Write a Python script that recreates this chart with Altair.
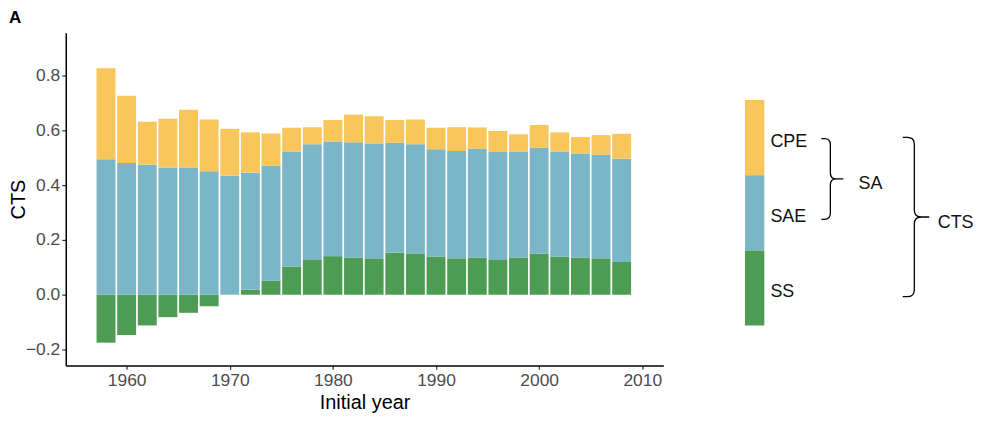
import altair as alt
import pandas as pd

# ---- data ----
years = [1958, 1960, 1962, 1964, 1966, 1968, 1970, 1972, 1974, 1976, 1978, 1980, 1982,
         1984, 1986, 1988, 1990, 1992, 1994, 1996, 1998, 2000, 2002, 2004, 2006, 2008]
ss = [-0.175, -0.147, -0.112, -0.082, -0.066, -0.042, 0.000, 0.018, 0.052, 0.103, 0.127, 0.141, 0.136,
      0.133, 0.153, 0.151, 0.139, 0.133, 0.136, 0.127, 0.136, 0.150, 0.139, 0.136, 0.133, 0.120]
sae = [0.495, 0.481, 0.475, 0.465, 0.465, 0.451, 0.435, 0.428, 0.418, 0.420, 0.423, 0.419, 0.421,
       0.419, 0.402, 0.399, 0.392, 0.392, 0.397, 0.394, 0.387, 0.387, 0.384, 0.380, 0.378, 0.377]
cpe = [0.332, 0.246, 0.157, 0.178, 0.211, 0.189, 0.171, 0.147, 0.119, 0.087, 0.062, 0.078, 0.101,
       0.100, 0.083, 0.090, 0.079, 0.087, 0.078, 0.077, 0.063, 0.083, 0.070, 0.060, 0.072, 0.091]

components = ["CPE", "SAE", "SS"]
colors = ["#F8C65B", "#7AB6C7", "#4E9B54"]
x_ticks = [1960, 1970, 1980, 1990, 2000, 2010]
y_ticks = [-0.2, 0.0, 0.2, 0.4, 0.6, 0.8]

FONT = "Liberation Sans"

rows = []
for i, yr in enumerate(years):
    rows.append({"year": yr, "component": "SS", "value": ss[i]})
    rows.append({"year": yr, "component": "SAE", "value": sae[i]})
    rows.append({"year": yr, "component": "CPE", "value": cpe[i]})
df = pd.DataFrame(rows)

color_scale = alt.Scale(domain=components, range=colors)

bars = (
    alt.Chart(df)
    .transform_calculate(rank="indexof(['SS','SAE','CPE'], datum.component)")
    .mark_bar(size=19)
    .encode(
        x=alt.X("year:Q",
                scale=alt.Scale(domain=[1954.58, 2011.56], nice=False, zero=False),
                axis=alt.Axis(values=x_ticks, format="d", title="Initial year",
                              titlePadding=4)),
        y=alt.Y("value:Q", stack="zero",
                scale=alt.Scale(domain=[-0.258, 0.957], nice=False, zero=False),
                axis=alt.Axis(values=y_ticks, format=".1f", title="CTS",
                              titlePadding=-3)),
        color=alt.Color("component:N", scale=color_scale, legend=None),
        order=alt.Order("rank:Q", sort="ascending"),
    )
)

leg_df = pd.DataFrame({"component": components})
leg_y = alt.Scale(domain=components, range=[67.6, 294], paddingInner=0, paddingOuter=0)

# legend panel positions are relative to the plot origin (now 3px further right)
OX = -3

leg_rect = (
    alt.Chart(leg_df)
    .mark_rect()
    .encode(
        x=alt.value(685 + OX), x2=alt.value(704.4 + OX),
        y=alt.Y("component:N", scale=leg_y, axis=None),
        color=alt.Color("component:N", scale=color_scale, legend=None),
    )
)

leg_text = (
    alt.Chart(leg_df)
    .mark_text(align="left", baseline="middle", dy=4, fontSize=18, font=FONT, color="#111111")
    .encode(
        x=alt.value(710.5 + OX),
        y=alt.Y("component:N", scale=leg_y, axis=None),
        text="component:N",
    )
)

SA_PATH = ("M -0.222 -1 L -0.148 -1 Q 0 -1 0 -0.852 L 0 -0.148 Q 0 0 0.148 0 L 0.321 0 "
           "M 0.148 0 Q 0 0 0 0.148 L 0 0.852 Q 0 1 -0.148 1 L -0.222 1")
CTS_PATH = ("M -0.145 -1 L -0.0875 -1 Q 0 -1 0 -0.9125 L 0 -0.0875 Q 0 0 0.0875 0 L 0.1875 0 "
            "M 0.0875 0 Q 0 0 0 0.0875 L 0 0.9125 Q 0 1 -0.0875 1 L -0.145 1")

one = alt.Data(values=[{"k": 1}])

brace_sa = alt.Chart(one).mark_point(
    shape=SA_PATH, size=6561, filled=False, stroke="black", strokeWidth=1.3, opacity=1
).encode(x=alt.value(770.7 + OX), y=alt.value(146.8))

brace_cts = alt.Chart(one).mark_point(
    shape=CTS_PATH, size=25600, filled=False, stroke="black", strokeWidth=1.3, opacity=1
).encode(x=alt.value(855 + OX), y=alt.value(185))

sa_text = alt.Chart(one).mark_text(
    text="SA", align="left", baseline="middle", dy=4, fontSize=18, font=FONT, color="#111111"
).encode(x=alt.value(799 + OX), y=alt.value(147.6))

cts_text = alt.Chart(one).mark_text(
    text="CTS", align="left", baseline="middle", dy=4, fontSize=18, font=FONT, color="#111111"
).encode(x=alt.value(878.5 + OX), y=alt.value(186.6))

a_text = alt.Chart(one).mark_text(
    text="A", align="left", baseline="top", fontSize=17, fontWeight="bold",
    font=FONT, color="black"
).encode(x=alt.value(-57), y=alt.value(-23))

chart = (
    alt.layer(bars, leg_rect, leg_text, brace_sa, brace_cts, sa_text, cts_text, a_text)
    .resolve_scale(y="independent")
    .properties(
        width=600, height=334,
        autosize=alt.AutoSizeParams(type="none"),
        padding={"left": 58, "top": 24, "right": 330, "bottom": 55},
        background="white",
    )
    .configure(font=FONT)
    .configure_view(stroke=None)
    .configure_axis(
        grid=False,
        domainColor="black", domainWidth=1.5,
        tickColor="#333333", tickSize=4, tickWidth=1.2,
        labelFontSize=17.5, labelColor="#4D4D4D", labelPadding=2, labelFont=FONT,
        titleFontSize=20, titleFontWeight="normal", titleColor="black", titleFont=FONT,
    )
)

chart.save("out.html", embed_options={"renderer": "svg", "actions": False})
